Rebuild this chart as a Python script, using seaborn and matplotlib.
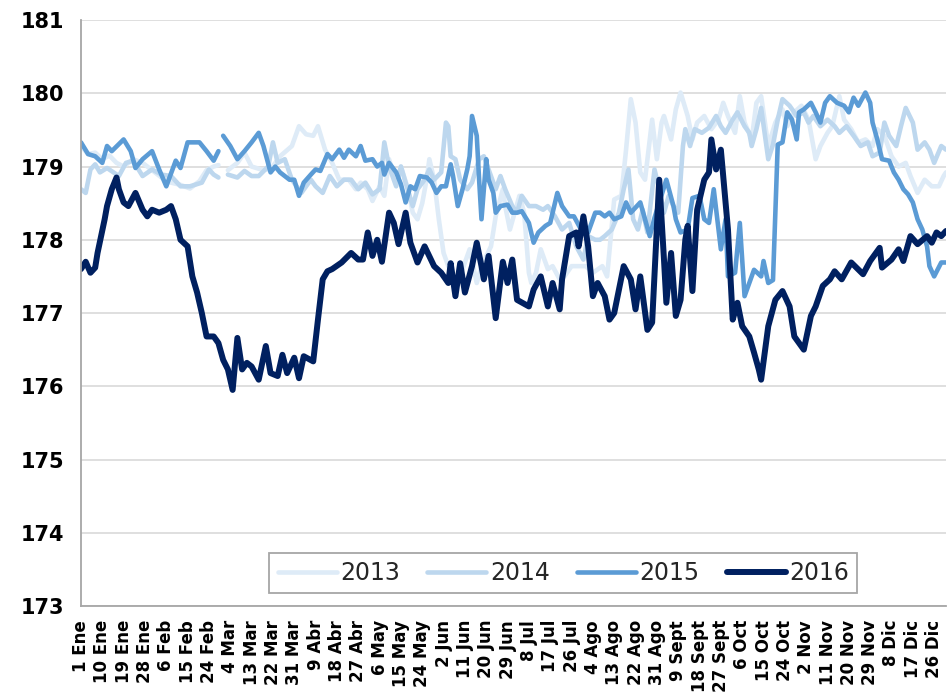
import matplotlib
matplotlib.use("Agg")
import matplotlib.pyplot as plt
import pandas as pd
import seaborn as sns

# x positions are day-of-year indices on a 366-day (2016) axis; None marks Feb 29
days_2013 = [0, 3, 6, 9, 12, 15, 18, 22, 26, 30, 34, 38, 42, 46, 50, 53, 56, 58, 59,
             62, 66, 69, 72, 76, 80, 84, 89, 92, 95, 98, 100, 103, 106, 109, 113, 116,
             118, 121, 123, 126, 128, 130, 133, 135, 138, 140, 142, 144, 146, 147, 149,
             151, 153, 155, 158, 161, 164, 167, 169, 173, 175, 178, 179, 181, 183, 185,
             187, 189, 190, 192, 194, 197, 199, 202, 204, 207, 210, 213, 216, 220, 222,
             225, 228, 230, 232, 234, 236, 238, 241, 243, 245, 246, 249, 251, 253, 256,
             258, 260, 263, 266, 269, 271, 273, 276, 278, 280, 283, 285, 287, 290, 293,
             296, 298, 301, 304, 307, 310, 312, 315, 317, 320, 322, 325, 328, 331, 334,
             336, 339, 342, 345, 348, 350, 353, 356, 359, 362, 364, 365]
vals_2013 = [179.28, 179.17, 179.19, 179.10, 179.15, 179.05, 179.00, 179.10, 179.05, 178.95,
             178.85, 178.78, 178.75, 178.70, 178.80, 178.95, 179.00, 179.02, None,
             178.95, 179.05, 179.19, 179.00, 178.96, 178.96, 179.14, 179.28, 179.55, 179.44,
             179.42, 179.55, 179.23, 179.05, 178.82, 178.82, 178.69, 178.78, 178.69, 178.53,
             178.73, 178.60, 179.10, 178.78, 179.00, 178.69, 178.37, 178.28, 178.50, 178.85,
             179.10, 178.82, 178.28, 177.82, 177.64, 177.46, 177.60, 177.87, 177.41, 177.64,
             177.91, 178.32, 178.69, 178.46, 178.14, 178.37, 178.60, 178.37, 177.55, 177.41,
             177.55, 177.87, 177.60, 177.64, 177.46, 177.50, 177.64, 177.64, 177.64, 177.55,
             177.64, 177.50, 178.55, 178.60, 179.23, 179.92, 179.60, 178.92, 178.82, 179.64,
             179.10, 179.60, 179.69, 179.37, 179.78, 180.01, 179.69, 179.37, 179.60, 179.69,
             179.51, 179.64, 179.87, 179.69, 179.46, 179.96, 179.60, 179.37, 179.87, 179.96,
             179.28, 179.60, 179.78, 179.55, 179.74, 179.83, 179.64, 179.10, 179.28, 179.46,
             179.55, 179.96, 179.64, 179.51, 179.33, 179.37, 179.28, 179.51, 179.42, 179.14,
             179.00, 179.05, 178.87, 178.64, 178.82, 178.73, 178.73, 178.87, 178.92]

days_2014 = [0, 2, 4, 6, 8, 11, 16, 19, 22, 26, 30, 34, 38, 42, 46, 51, 54, 56, 58, 59,
             62, 66, 69, 72, 75, 79, 81, 83, 86, 89, 93, 97, 99, 102, 105, 108, 111, 114,
             117, 120, 123, 126, 128, 130, 133, 135, 137, 140, 142, 145, 147, 149, 152,
             154, 155, 156, 158, 160, 163, 165, 168, 170, 172, 175, 177, 179, 182, 184,
             186, 189, 192, 195, 197, 200, 203, 206, 209, 212, 214, 217, 219, 221, 224,
             227, 229, 231, 233, 235, 237, 239, 242, 244, 246, 248, 250, 252, 254, 255,
             257, 259, 262, 265, 268, 270, 272, 275, 277, 280, 282, 283, 285, 287, 290,
             292, 294, 296, 299, 302, 305, 307, 309, 312, 315, 318, 320, 323, 326, 329,
             332, 334, 337, 339, 341, 344, 346, 348, 351, 353, 356, 358, 360, 363, 365]
vals_2014 = [178.69, 178.64, 178.96, 179.03, 178.92, 178.98, 178.87, 179.05, 179.08, 178.87,
             178.96, 178.89, 178.87, 178.73, 178.73, 178.78, 178.96, 178.89, 178.85, None,
             178.89, 178.85, 178.94, 178.87, 178.87, 179.00, 179.33, 179.05, 179.10, 178.82,
             178.64, 178.82, 178.73, 178.64, 178.87, 178.73, 178.82, 178.82, 178.69, 178.78,
             178.62, 178.69, 179.33, 179.00, 178.73, 179.00, 178.78, 178.46, 178.69, 178.82,
             178.96, 178.82, 178.92, 179.60, 179.55, 179.14, 179.10, 178.82, 178.69, 178.78,
             179.10, 179.14, 178.96, 178.69, 178.87, 178.69, 178.46, 178.37, 178.60, 178.46,
             178.46, 178.41, 178.46, 178.32, 178.14, 178.23, 177.91, 177.73, 178.05, 178.00,
             178.00, 178.05, 178.14, 178.37, 178.69, 178.96, 178.28, 178.14, 178.41, 178.10,
             178.96, 178.69, 178.37, 178.60, 178.46, 178.37, 179.28, 179.51, 179.28, 179.51,
             179.46, 179.53, 179.69, 179.55, 179.46, 179.64, 179.74, 179.55, 179.46, 179.28,
             179.51, 179.80, 179.10, 179.30, 179.64, 179.92, 179.83, 179.69, 179.74, 179.60,
             179.69, 179.55, 179.64, 179.55, 179.46, 179.55, 179.42, 179.28, 179.33, 179.14,
             179.19, 179.60, 179.42, 179.28, 179.55, 179.80, 179.60, 179.23, 179.33, 179.23,
             179.05, 179.28, 179.23]

days_2015 = [0, 3, 6, 9, 11, 13, 18, 21, 23, 26, 30, 33, 36, 40, 42, 45, 50, 53, 56, 58, 59,
             60, 63, 66, 69, 72, 75, 77, 80, 82, 84, 88, 90, 92, 94, 97, 99, 101, 104, 106,
             109, 111, 113, 116, 118, 120, 123, 125, 127, 128, 130, 133, 135, 137, 139, 141,
             143, 146, 148, 150, 152, 154, 156, 157, 159, 161, 163, 164, 165, 167, 168, 169,
             171, 172, 174, 175, 177, 180, 182, 184, 186, 189, 191, 193, 196, 198, 201, 203,
             206, 208, 211, 214, 217, 219, 221, 223, 225, 228, 230, 232, 236, 238, 240, 242,
             247, 250, 251, 253, 256, 258, 261, 263, 265, 267, 270, 272, 273, 276, 278, 280,
             282, 284, 287, 288, 290, 292, 294, 296, 298, 300, 302, 303, 305, 308, 310, 312,
             314, 316, 319, 322, 324, 326, 328, 331, 333, 334, 336, 338, 341, 343, 345, 347,
             349, 351, 353, 355, 357, 358, 360, 363, 365]
vals_2015 = [179.33, 179.17, 179.14, 179.05, 179.28, 179.21, 179.37, 179.21, 178.98, 179.10,
             179.21, 178.96, 178.73, 179.08, 178.98, 179.33, 179.33, 179.21, 179.08, 179.21, None,
             179.42, 179.28, 179.10, 179.21, 179.33, 179.46, 179.28, 178.92, 179.00, 178.92,
             178.82, 178.82, 178.60, 178.78, 178.89, 178.96, 178.94, 179.17, 179.10, 179.23,
             179.12, 179.23, 179.14, 179.28, 179.08, 179.10, 179.00, 179.05, 178.89, 179.05,
             178.92, 178.76, 178.51, 178.73, 178.69, 178.87, 178.85, 178.78, 178.64, 178.73,
             178.73, 179.03, 178.87, 178.46, 178.69, 178.96, 179.14, 179.69, 179.42, 178.82,
             178.28, 179.10, 178.82, 178.64, 178.37, 178.46, 178.48, 178.37, 178.37, 178.39,
             178.23, 177.96, 178.10, 178.19, 178.23, 178.64, 178.46, 178.32, 178.32, 178.14,
             178.10, 178.37, 178.37, 178.32, 178.37, 178.28, 178.32, 178.51, 178.37, 178.51,
             178.28, 178.05, 178.30, 178.82, 178.46, 178.28, 178.10, 178.14, 178.57, 178.60,
             178.28, 178.23, 178.69, 177.87, 178.28, 177.50, 177.55, 178.23, 177.23, 177.41,
             177.59, 177.50, 177.71, 177.41, 177.45, 179.30, 179.33, 179.74, 179.64, 179.37,
             179.74, 179.78, 179.87, 179.74, 179.60, 179.87, 179.96, 179.87, 179.83, 179.74,
             179.94, 179.83, 180.01, 179.87, 179.60, 179.37, 179.10, 179.08, 178.92, 178.82,
             178.69, 178.62, 178.51, 178.28, 178.14, 177.91, 177.64, 177.50, 177.69, 177.69]

days_2016 = [0, 2, 4, 6, 7, 10, 11, 13, 15, 16, 18, 20, 23, 26, 28, 30, 33, 36, 38, 40, 42,
             45, 47, 49, 51, 53, 56, 58, 60, 62, 64, 66, 68, 70, 72, 75, 78, 80, 83, 85, 87,
             90, 92, 94, 98, 100, 102, 104, 106, 110, 114, 117, 119, 121, 123, 125, 127, 130,
             132, 134, 137, 139, 142, 145, 149, 152, 155, 156, 158, 160, 162, 165, 167, 169,
             170, 172, 175, 178, 180, 182, 184, 189, 191, 194, 197, 199, 202, 203, 206, 209,
             210, 212, 214, 216, 218, 221, 223, 225, 229, 232, 234, 236, 239, 241, 244, 246,
             247, 249, 251, 253, 255, 256, 258, 260, 263, 265, 266, 268, 270, 273, 275, 277,
             279, 282, 284, 286, 287, 290, 293, 296, 299, 301, 305, 308, 310, 313, 316, 318,
             321, 325, 330, 333, 337, 338, 342, 345, 347, 350, 353, 357, 359, 361, 363, 365]
vals_2016 = [177.60, 177.70, 177.55, 177.62, 177.82, 178.28, 178.46, 178.69, 178.85, 178.69,
             178.51, 178.46, 178.64, 178.41, 178.32, 178.41, 178.37, 178.41, 178.46, 178.28,
             178.00, 177.91, 177.50, 177.28, 177.00, 176.68, 176.68, 176.59, 176.36, 176.23,
             175.95, 176.66, 176.23, 176.32, 176.27, 176.09, 176.55, 176.18, 176.14, 176.43,
             176.18, 176.39, 176.11, 176.41, 176.34, 176.91, 177.46, 177.57, 177.60, 177.69,
             177.82, 177.73, 177.73, 178.10, 177.78, 178.00, 177.70, 178.37, 178.23, 177.94,
             178.37, 177.96, 177.69, 177.91, 177.64, 177.55, 177.41, 177.68, 177.23, 177.68,
             177.28, 177.64, 177.96, 177.64, 177.46, 177.78, 176.93, 177.70, 177.41, 177.73,
             177.18, 177.09, 177.32, 177.50, 177.09, 177.41, 177.05, 177.46, 178.05, 178.10,
             177.91, 178.32, 177.91, 177.23, 177.41, 177.23, 176.91, 177.00, 177.64, 177.46,
             177.05, 177.50, 176.77, 176.87, 178.82, 177.73, 177.14, 177.82, 176.96, 177.18,
             178.00, 178.19, 177.30, 178.41, 178.82, 178.92, 179.37, 178.96, 179.23, 178.14,
             176.91, 177.14, 176.82, 176.68, 176.46, 176.23, 176.09, 176.82, 177.18, 177.30,
             177.09, 176.68, 176.50, 176.96, 177.09, 177.37, 177.46, 177.57, 177.46, 177.69,
             177.53, 177.71, 177.89, 177.62, 177.73, 177.87, 177.71, 178.05, 177.94, 178.05,
             177.96, 178.10, 178.05, 178.12]

years = ["2013", "2014", "2015", "2016"]
colors = ["#DEEBF7", "#BDD7EE", "#5B9BD5", "#002060"]

tick_days = list(range(0, 361, 9))
tick_labels = ["1 Ene", "10 Ene", "19 Ene", "28 Ene", "6 Feb", "15 Feb", "24 Feb",
               "4 Mar", "13 Mar", "22 Mar", "31 Mar", "9 Abr", "18 Abr", "27 Abr",
               "6 May", "15 May", "24 May", "2 Jun", "11 Jun", "20 Jun", "29 Jun",
               "8 Jul", "17 Jul", "26 Jul", "4 Ago", "13 Ago", "22 Ago", "31 Ago",
               "9 Sept", "18 Sept", "27 Sept", "6 Oct", "15 Oct", "24 Oct", "2 Nov",
               "11 Nov", "20 Nov", "29 Nov", "8 Dic", "17 Dic", "26 Dic"]

sns.set_theme(style="white")
plt.rcParams["font.family"] = ["DejaVu Sans"]

fig = plt.figure(figsize=(9.48, 6.93), dpi=100)
ax = fig.add_axes([0.0854, 0.1255, 0.9125, 0.8456])
ax.set_axisbelow(True)

all_series = [(days_2013, vals_2013), (days_2014, vals_2014),
              (days_2015, vals_2015), (days_2016, vals_2016)]
widths = [3.3, 3.3, 3.3, 4.3]

for year, (days, vals), color, lw in zip(years, all_series, colors, widths):
    df = pd.DataFrame({"day": days, "value": vals}, dtype=float)
    # break the line where a year has no Feb 29
    seg_id = df["value"].isna().cumsum()
    ok = df["value"].notna()
    first = True
    for _, part in df[ok].groupby(seg_id[ok]):
        kw = {"label": year} if first else {}
        sns.lineplot(data=part, x="day", y="value", color=color, linewidth=lw,
                     estimator=None, sort=False, legend=False, ax=ax, **kw)
        first = False

ax.set_xlim(0, 365)
ax.set_ylim(173, 181)
ax.set_yticks(range(173, 182))
ax.set_xticks(tick_days)
ax.set_xticklabels(tick_labels, rotation=90, fontsize=12, fontweight="bold")
for lab in ax.get_yticklabels():
    lab.set_fontweight("bold")
ax.set_xlabel("")
ax.set_ylabel("")

ax.yaxis.grid(True, color="#D9D9D9", linewidth=1.2)
ax.xaxis.grid(False)
for side in ["top", "right"]:
    ax.spines[side].set_visible(False)
for side in ["left", "bottom"]:
    ax.spines[side].set_color("#A6A6A6")
    ax.spines[side].set_linewidth(1.3)
ax.tick_params(axis="both", direction="out", length=6, width=1.2, color="#A6A6A6",
               labelcolor="black")
ax.tick_params(axis="y", labelsize=15, pad=6)
ax.tick_params(axis="x", pad=4)

handles, labels = ax.get_legend_handles_labels()
leg = ax.legend(handles, labels, ncol=4, loc="center", bbox_to_anchor=(0.5577, 0.0565),
                frameon=True, fancybox=False, edgecolor="#A6A6A6", framealpha=1,
                fontsize=17, handlelength=2.5, handletextpad=0.15, columnspacing=1.15,
                borderpad=0.35)
leg.get_frame().set_linewidth(1.3)

fig.savefig("out.png", dpi=100)
